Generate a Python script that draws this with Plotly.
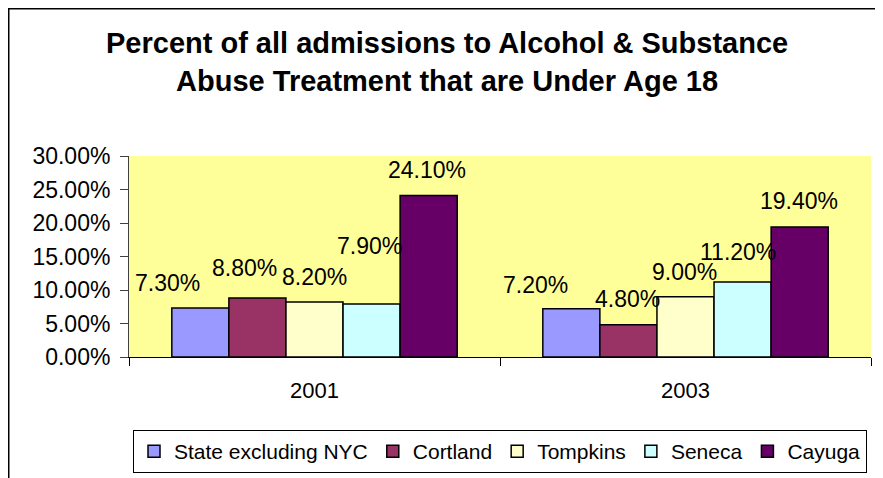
import plotly.graph_objects as go

# ---- data ----
years = ["2001", "2003"]
series_names = ["State excluding NYC", "Cortland", "Tompkins", "Seneca", "Cayuga"]
state_excl_nyc = [7.3, 7.2]
cortland = [8.8, 4.8]
tompkins = [8.2, 9.0]
seneca = [7.9, 11.2]
cayuga = [24.1, 19.4]
y_ticks = [0, 5, 10, 15, 20, 25, 30]
y_tick_labels = ["0.00%", "5.00%", "10.00%", "15.00%", "20.00%", "25.00%", "30.00%"]

series_values = [state_excl_nyc, cortland, tompkins, seneca, cayuga]
colors = ["#9999FF", "#993366", "#FFFFCC", "#CCFFFF", "#660066"]

# label placement tweaks (pixels), mimicking the original's label layout
label_dx = [[-33, -36], [-13, -1], [0, -1], [-2, -5], [-2, -1]]
label_dy = [[25, 24], [30, 26], [25, 25], [58, 30], [26, 26]]

FONT = "Liberation Sans, Arial, sans-serif"
# page body has an 8px margin, so the figure is drawn 8px in from the top-left
W, H = 875, 470
L, R, T, B = 121, 12, 148, 121
pw, ph = W - L - R, H - T - B
bargap = 1.5 / 6.5

fig = go.Figure()
for name, vals, col in zip(series_names, series_values, colors):
    fig.add_trace(go.Bar(
        x=years, y=vals, name=name,
        marker=dict(color=col, line=dict(color="black", width=1.5)),
        hoverinfo="x+y+name",
    ))

bar_w = (1 - bargap) / len(series_names)
annotations = []
for i, vals in enumerate(series_values):
    for j, v in enumerate(vals):
        annotations.append(dict(
            x=j + (i - (len(series_names) - 1) / 2) * bar_w, y=v,
            xref="x", yref="y", text=f"{v:.2f}%", showarrow=False,
            xanchor="center", yanchor="middle",
            xshift=label_dx[i][j], yshift=label_dy[i][j],
            font=dict(family=FONT, size=23, color="black"),
        ))

# title
annotations.append(dict(
    x=(439 - L) / pw, y=(H - B - 53.5) / ph, xref="paper", yref="paper",
    text="<b>Percent of all admissions to Alcohol & Substance<br>Abuse Treatment that are Under Age 18</b>",
    showarrow=False, xanchor="center", yanchor="middle",
    font=dict(family=FONT, size=29, color="black"),
))

# outer chart border (extends past the right/bottom edges as in the original)
shapes = [dict(
    type="rect", xref="paper", yref="paper",
    x0=(0.75 - L) / pw, x1=(890 - L) / pw,
    y0=(H - B - 490) / ph, y1=(H - B - 0.75) / ph,
    line=dict(color="black", width=1.5), fillcolor="rgba(0,0,0,0)", layer="below",
)]

fig.update_layout(
    width=W, height=H,
    margin=dict(l=L, r=R, t=T, b=B, pad=0, autoexpand=False),
    paper_bgcolor="white", plot_bgcolor="#FFFF99",
    barmode="group", bargap=bargap, bargroupgap=0,
    font=dict(family=FONT, size=22, color="black"),
    showlegend=True,
    legend=dict(
        orientation="h", x=0.5, xanchor="center",
        y=(H - B - 422) / ph, yanchor="top",
        bordercolor="black", borderwidth=1, bgcolor="white",
        font=dict(family=FONT, size=21, color="black"),
        traceorder="normal", itemwidth=30,
    ),
    annotations=annotations,
    shapes=shapes,
    xaxis=dict(
        type="category", showgrid=False, showline=True, linecolor="black", linewidth=1,
        ticks="outside", ticklen=8, tickcolor="black", tickson="boundaries",
        tickfont=dict(family=FONT, size=22, color="black"), ticklabelstandoff=14,
        zeroline=False,
    ),
    yaxis=dict(
        range=[0, 30], tickmode="array", tickvals=y_ticks, ticktext=y_tick_labels,
        showgrid=False, showline=True, linecolor="#404040", linewidth=1,
        ticks="outside", ticklen=8, tickcolor="#404040",
        tickfont=dict(family=FONT, size=23, color="black"), ticklabelstandoff=5,
        zeroline=False,
    ),
)

fig.write_html("out.html")
